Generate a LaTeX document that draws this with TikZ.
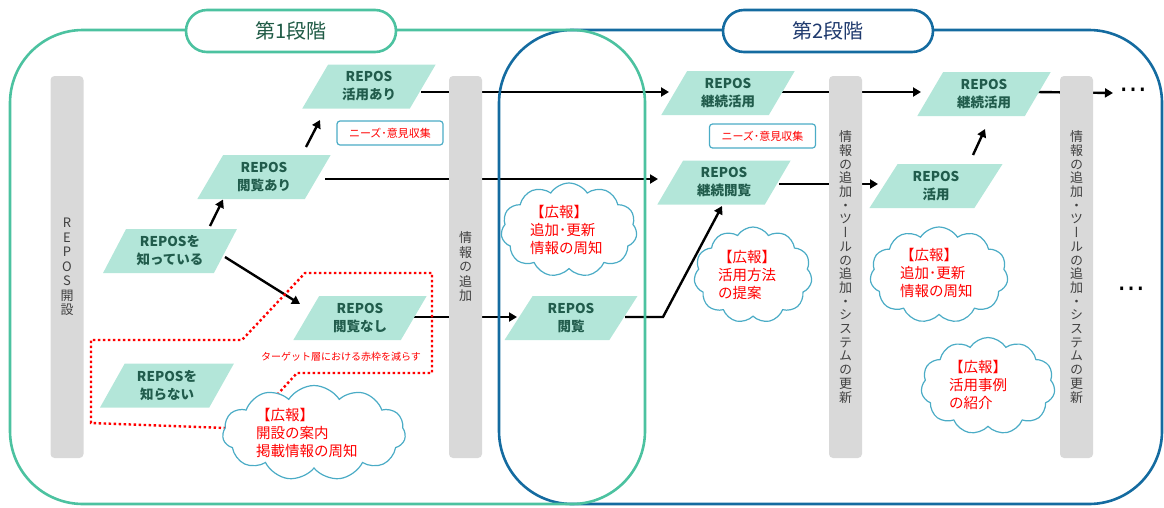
\documentclass[tikz,border=0pt]{standalone}
\usepackage{fontspec}
\setmainfont{Noto Sans CJK JP}
\newfontfamily\vjp[RawFeature=+vert]{Noto Sans CJK JP}
\newfontfamily\dejavu{DejaVu Sans}
\usetikzlibrary{shapes.geometric,shapes.symbols,arrows.meta,calc}
\definecolor{stgreen}{HTML}{4CC2A0}
\definecolor{stblue}{HTML}{146BA0}
\definecolor{mint}{HTML}{B3E6D9}
\definecolor{paratext}{HTML}{215C4C}
\definecolor{bargray}{HTML}{D9D9D9}
\definecolor{bartext}{HTML}{404040}
\definecolor{cloudc}{HTML}{4BACC6}
\definecolor{sonetext}{HTML}{1F5A45}
\definecolor{stwotext}{HTML}{1F3A6E}
\pgfdeclarelayer{bg}
\pgfsetlayers{bg,main}
\begin{document}
\begin{tikzpicture}[x=1pt,y=-1pt,
  frame/.style={line width=2.6pt, rounded corners=73pt},
  pill/.style={rectangle, rounded corners=21pt, fill=white, line width=2.6pt, minimum width=210pt, minimum height=42pt, inner sep=0pt, font=\fontsize{20}{24}\selectfont},
  bar/.style={fill=bargray, rounded corners=4pt, minimum width=33pt, minimum height=382pt, inner sep=0pt, text=bartext, align=center},
  para/.style={trapezium, trapezium left angle=60, trapezium right angle=120, trapezium stretches=true, minimum width=134pt, minimum height=44pt, fill=mint, inner sep=0pt, text=paratext, align=center, font=\bfseries\fontsize{13.5}{18}\selectfont},
  cloudnode/.style={cloud, cloud puffs=11, cloud puff arc=115, cloud ignores aspect, draw=cloudc, line width=1.2pt, fill=white, inner sep=0pt},
  cloudtxt/.style={anchor=west, text=red, align=left, inner sep=0pt, font=\fontsize{14.5}{18}\selectfont},
  needbox/.style={draw=cloudc, line width=1.2pt, rounded corners=3pt, fill=white, text=red, font=\fontsize{11}{13}\selectfont, minimum width=106pt, minimum height=24pt, inner sep=0pt},
  arr/.style={draw=black, line width=2.4pt, -{Triangle[length=8pt,width=9pt]}},
  dotsnode/.style={inner sep=0pt, font=\dejavu\fontsize{28}{28}\selectfont}
]
\useasboundingbox (0,0) rectangle (1164,507);

% stage frames
\draw[frame, draw=stblue] (499,30) rectangle (1162,504);
\draw[frame, draw=stgreen] (10,30) rectangle (645,504);

\node[pill, draw=stgreen, text=sonetext] (s1) at (291,31) {第1段階};
\node[pill, draw=stblue, text=stwotext] (s2) at (828,31) {第2段階};

% bars
\node[bar, font=\vjp\fontsize{13}{14.5}\selectfont] (b1) at (67,267) {R\\E\\P\\O\\S\\開\\設};
\node[bar, font=\vjp\fontsize{13}{14.5}\selectfont] (b2) at (465.5,267) {情\\報\\の\\追\\加};
\node[bar, font=\vjp\fontsize{13}{13.7}\selectfont] (b3) at (845.5,267) {情\\報\\の\\追\\加\\・\\ツ\\ー\\ル\\の\\追\\加\\・\\シ\\ス\\テ\\ム\\の\\更\\新};
\node[bar, font=\vjp\fontsize{13}{13.7}\selectfont] (b4) at (1076.5,267) {情\\報\\の\\追\\加\\・\\ツ\\ー\\ル\\の\\追\\加\\・\\シ\\ス\\テ\\ム\\の\\更\\新};

% parallelograms
\node[para] (p1) at (369,86.5) {REPOS\\活用あり};
\node[para] (p2) at (264,177) {REPOS\\閲覧あり};
\node[para] (p3) at (170,251) {REPOSを\\知っている};
\node[para] (p4) at (360,318) {REPOS\\閲覧なし};
\node[para] (p5) at (167,385.5) {REPOSを\\知らない};
\node[para] (q1) at (571,318) {REPOS\\閲覧};
\node[para] (k1) at (728,93) {REPOS\\継続活用};
\node[para] (k2) at (724,182.5) {REPOS\\継続閲覧};
\node[para] (u1) at (936,186) {REPOS\\活用};
\node[para] (k3) at (984,94) {REPOS\\継続活用};

% needs boxes
\node[needbox] (n1) at (390,133) {ニーズ･意見収集};
\node[needbox] (n2) at (762.5,136) {ニーズ･意見収集};

% red dotted region
\draw[red, line width=2.4pt, dash pattern=on 2.4pt off 2.6pt]
  (226,428) -- (91,423) -- (91,340) -- (242,340) -- (305,273) -- (432,273)
  -- (432,373) -- (297,373) -- (276,396);
\node[text=red, font=\fontsize{10}{12}\selectfont, inner sep=0pt] (tg) at (341,357) {ターゲット層における赤枠を減らす};

% clouds
\node[cloudnode, minimum width=183pt, minimum height=95pt] (c1) at (314,433) {};
\node[cloudtxt] (c1t) at (256,433) {【広報】\\開設の案内\\掲載情報の周知};
\node[cloudnode, minimum width=136pt, minimum height=94pt] (c2) at (569,230) {};
\node[cloudtxt] (c2t) at (530,230) {【広報】\\追加･更新\\情報の周知};
\node[cloudnode, minimum width=118pt, minimum height=96pt] (c3) at (753,275) {};
\node[cloudtxt] (c3t) at (718,275) {【広報】\\活用方法\\の提案};
\node[cloudnode, minimum width=138pt, minimum height=96pt] (c4) at (939,275) {};
\node[cloudtxt] (c4t) at (900,273) {【広報】\\追加･更新\\情報の周知};
\node[cloudnode, minimum width=134pt, minimum height=97pt] (c5) at (988,386) {};
\node[cloudtxt] (c5t) at (949,385) {【広報】\\活用事例\\の紹介};

% dots
\node[dotsnode] (d1) at (1133,93) {⋯};
\node[dotsnode] (d2) at (1131,292) {⋯};

% connectors (behind)
\begin{pgfonlayer}{bg}
\draw[arr] ($(p3)+(40,-25)$) -- ($(p2)+(-41,22.5)$);
\draw[arr] ($(p2)+(42,-30)$) -- ($(p1)+(-49,33.5)$);
\draw[arr] ($(p3)+(55,6)$) -- ($(p4)+(-60,-14)$);
\draw[arr] ($(p1)+(52,5.5)$) -- ($(k1)+(-59,-1)$);
\draw[arr] ($(p2)+(61,2)$) -- ($(k2)+(-66,-3.5)$);
\draw[arr] ($(p4)+(53,-1)$) -- ($(q1)+(-54,-1)$);
\draw[arr] ($(q1)+(54,-1)$) -- ++(38,0) -- ($(k2)+(-2,23.5)$);
\draw[arr] ($(k1)+(54,-1)$) -- ($(k3)+(-63,-2)$);
\draw[arr] ($(k2)+(55,1.5)$) -- ($(u1)+(-58,-2)$);
\draw[arr] ($(u1)+(37,-31)$) -- ($(k3)+(1,35)$);
\draw[arr] ($(k3)+(53,-2)$) -- ($(d1)+(-20,0)$);
\end{pgfonlayer}
\end{tikzpicture}
\end{document}
